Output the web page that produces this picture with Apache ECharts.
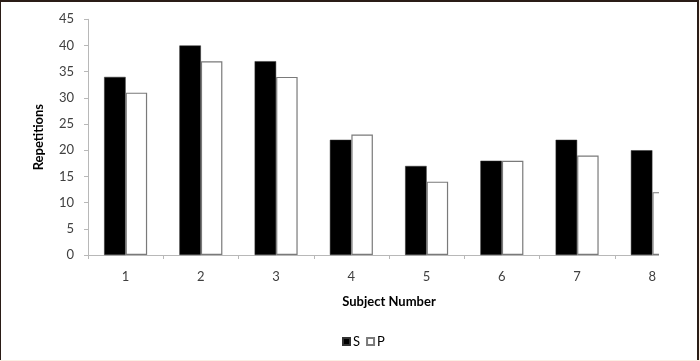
<!DOCTYPE html>
<html>
<head>
<meta charset="utf-8">
<script src="https://cdn.jsdelivr.net/npm/echarts@6/dist/echarts.min.js"></script>
<style>
  html, body { margin: 0; padding: 0; width: 700px; height: 361px; background: #fbeee4; overflow: hidden; }
  #frame { position: absolute; left: 0; top: 0; width: 696px; height: 358px; background: #fff;
           border-left: 1px solid #2a1c16; border-top: 2px solid #2a1c16; border-right: 2px solid #2a1c16; }
  #clip { position: absolute; left: 0; top: 0; width: 659px; height: 361px; overflow: hidden; }
  #chart { position: absolute; left: 0; top: 0; width: 700px; height: 361px; }
</style>
</head>
<body>
<div id="frame"></div>
<div id="clip"><div id="chart"></div></div>
<script>
const categories = ['1', '2', '3', '4', '5', '6', '7', '8'];
const sValues = [34, 40, 37, 22, 17, 18, 22, 20];
const pValues = [31, 37, 34, 23, 14, 18, 19, 12];
const yTicks = { min: 0, max: 45, interval: 5 };
const seriesNames = ['S', 'P'];
const xTitle = 'Subject Number';
const yTitle = 'Repetitions';

const font = 'Lato, "Open Sans", sans-serif';
const chart = echarts.init(document.getElementById('chart'), null, { renderer: 'canvas' });
chart.setOption({
  animation: false,
  backgroundColor: 'transparent',
  grid: { left: 88, top: 19.3, width: 602, height: 235.7, containLabel: false, outerBoundsMode: 'none' },
  legend: {
    left: 337, top: 330,
    itemWidth: 7, itemHeight: 7, itemGap: 6,
    textStyle: { fontFamily: font, fontSize: 13, color: '#000', padding: [0, 0, 0, -2] },
    data: [
      { name: seriesNames[0], icon: 'rect' },
      { name: seriesNames[1], icon: 'rect' }
    ]
  },
  xAxis: {
    type: 'category',
    data: categories,
    name: xTitle,
    nameLocation: 'middle',
    nameGap: 40,
    nameTextStyle: { fontFamily: font, fontSize: 13, fontWeight: 'bold', color: '#000' },
    axisLine: { lineStyle: { color: '#b8b8b8', width: 1 } },
    axisTick: { show: true, length: 4, lineStyle: { color: '#b8b8b8' } },
    axisLabel: { margin: 15, fontFamily: font, fontSize: 13, color: '#404040' }
  },
  yAxis: {
    type: 'value',
    min: yTicks.min, max: yTicks.max, interval: yTicks.interval,
    name: yTitle,
    nameLocation: 'middle',
    nameGap: 43,
    nameTextStyle: { fontFamily: font, fontSize: 13, fontWeight: 'bold', color: '#000' },
    axisLine: { show: true, lineStyle: { color: '#b8b8b8', width: 1 } },
    axisTick: { show: true, length: 4, lineStyle: { color: '#b8b8b8' } },
    splitLine: { show: false },
    axisLabel: { margin: 14, fontFamily: font, fontSize: 13, color: '#404040' }
  },
  series: [
    {
      name: seriesNames[0], type: 'bar', data: sValues,
      barWidth: 21.5, barGap: '0%',
      itemStyle: { color: '#000', borderColor: '#333', borderWidth: 0.5 }
    },
    {
      name: seriesNames[1], type: 'bar', data: pValues,
      barWidth: 21.5, barGap: '0%',
      itemStyle: { color: '#fff', borderColor: '#7a7a7a', borderWidth: 1.2 }
    }
  ]
});
</script>
</body>
</html>
